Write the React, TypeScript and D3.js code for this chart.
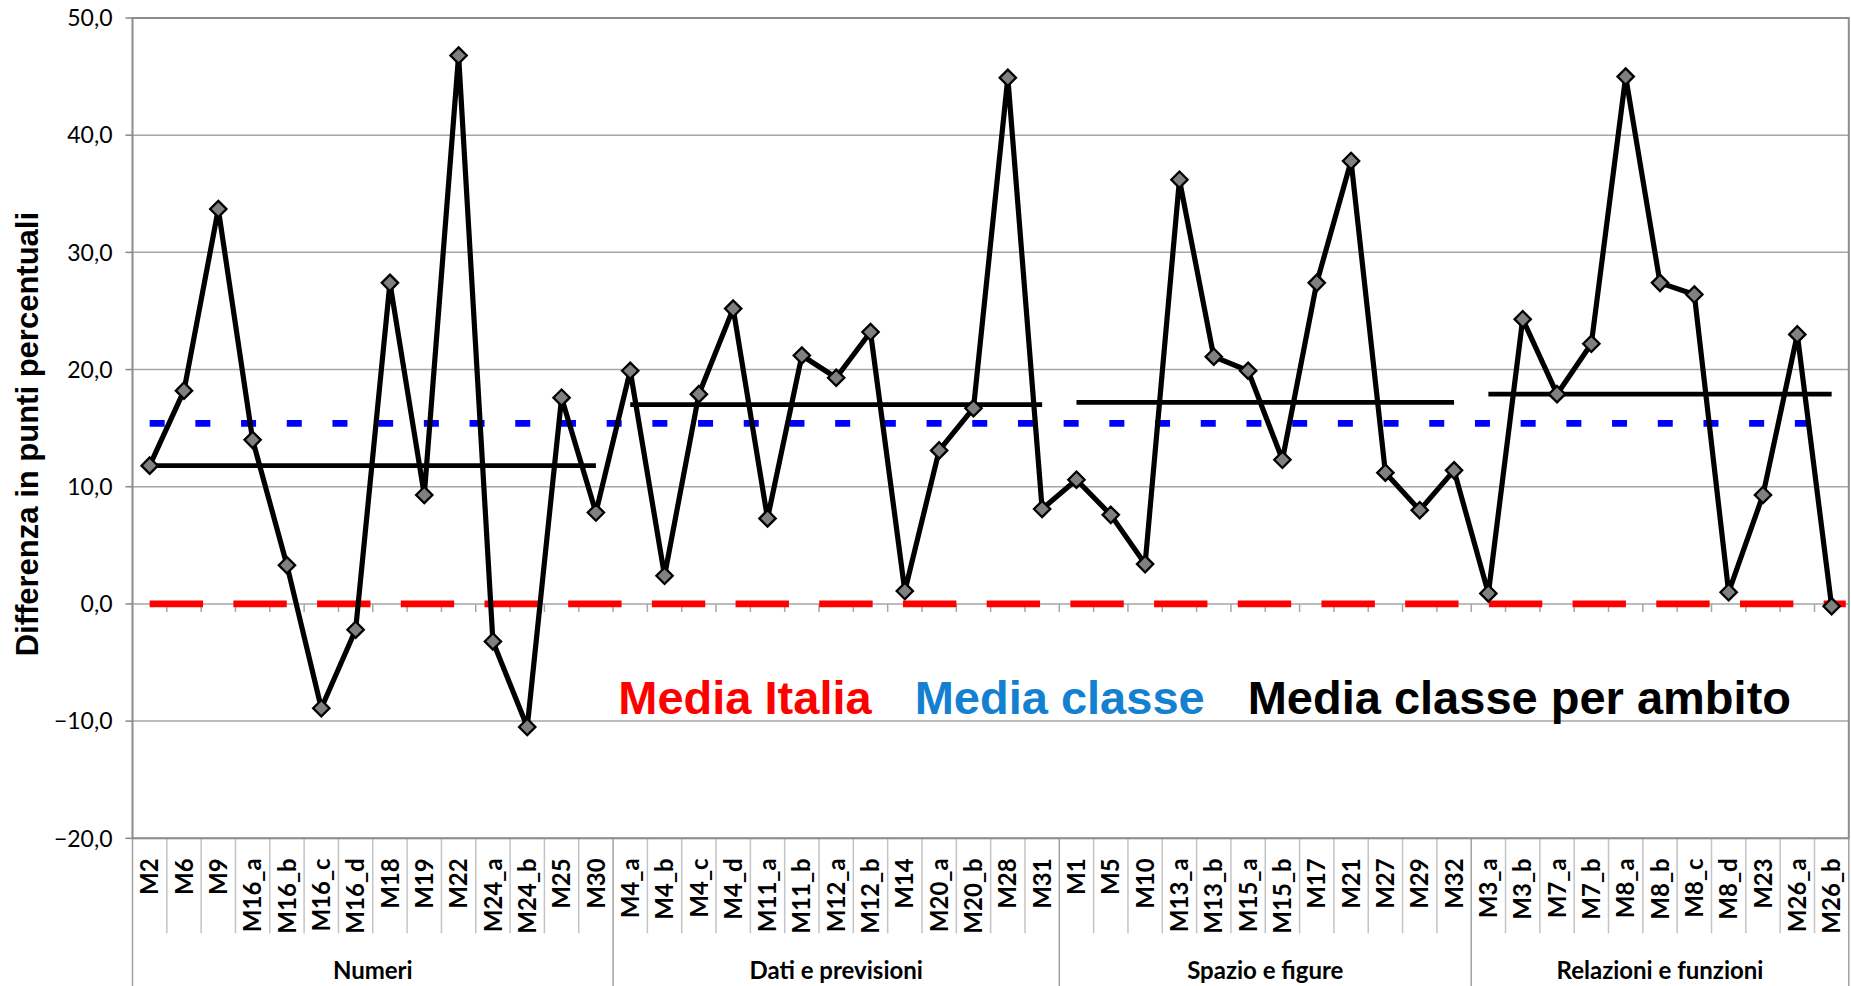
import React, { useEffect, useRef } from 'react';
import * as d3 from 'd3';

const groupNames = ['Numeri', 'Dati e previsioni', 'Spazio e figure', 'Relazioni e funzioni'];

const numeriItems = ['M2', 'M6', 'M9', 'M16_a', 'M16_b', 'M16_c', 'M16_d', 'M18', 'M19', 'M22', 'M24_a', 'M24_b', 'M25', 'M30'];
const numeriValues = [11.8, 18.2, 33.7, 14.0, 3.3, -8.9, -2.2, 27.4, 9.3, 46.8, -3.2, -10.5, 17.6, 7.8];

const datiItems = ['M4_a', 'M4_b', 'M4_c', 'M4_d', 'M11_a', 'M11_b', 'M12_a', 'M12_b', 'M14', 'M20_a', 'M20_b', 'M28', 'M31'];
const datiValues = [19.9, 2.4, 17.9, 25.2, 7.3, 21.2, 19.3, 23.2, 1.1, 13.1, 16.7, 44.9, 8.1];

const spazioItems = ['M1', 'M5', 'M10', 'M13_a', 'M13_b', 'M15_a', 'M15_b', 'M17', 'M21', 'M27', 'M29', 'M32'];
const spazioValues = [10.6, 7.6, 3.4, 36.2, 21.1, 19.9, 12.3, 27.4, 37.8, 11.2, 8.0, 11.4];

const relazioniItems = ['M3_a', 'M3_b', 'M7_a', 'M7_b', 'M8_a', 'M8_b', 'M8_c', 'M8_d', 'M23', 'M26_a', 'M26_b'];
const relazioniValues = [0.9, 24.3, 17.9, 22.2, 45.0, 27.4, 26.4, 1.0, 9.3, 23.0, -0.2];

const groupItems = [numeriItems, datiItems, spazioItems, relazioniItems];
const groupValues = [numeriValues, datiValues, spazioValues, relazioniValues];
const groupMeans = [11.8, 17.0, 17.2, 17.9];

const italyMean = 0;
const classMean = 15.4;
const yTicks = [-20, -10, 0, 10, 20, 30, 40, 50];

const legendItems = [
  { label: 'Media Italia', color: '#ff0000' },
  { label: 'Media classe', color: '#1380d0' },
  { label: 'Media classe per ambito', color: '#000000' },
];

const WIDTH = 1851;
const HEIGHT = 986;
const plot = { left: 132.5, right: 1848.8, top: 18, bottom: 838.3 };

const labelFont = 'Lato, "Open Sans", sans-serif';
const arialFont = '"Liberation Sans", Arial, sans-serif';

const App: React.FC = () => {
  const svgRef = useRef<SVGSVGElement>(null);

  useEffect(() => {
    if (!svgRef.current) return;
    const svg = d3.select(svgRef.current);
    svg.selectAll('*').remove();

    const rows = groupItems.flatMap((items, g) =>
      items.map((item, i) => ({ item, value: groupValues[g][i], group: g }))
    );

    const x = d3
      .scaleBand()
      .domain(rows.map(d => d.item))
      .range([plot.left, plot.right])
      .padding(0);
    const y = d3.scaleLinear().domain([-20, 50]).range([plot.bottom, plot.top]);
    const cx = (item: string) => (x(item) || 0) + x.bandwidth() / 2;

    svg.append('rect').attr('width', WIDTH).attr('height', HEIGHT).attr('fill', '#fff');

    // gridlines
    svg
      .append('g')
      .selectAll('line')
      .data(yTicks)
      .join('line')
      .attr('x1', plot.left)
      .attr('x2', plot.right)
      .attr('y1', d => y(d))
      .attr('y2', d => y(d))
      .attr('stroke', '#a6a6a6')
      .attr('stroke-width', 1.5);

    // y ticks + labels
    const yAxis = svg.append('g');
    yAxis
      .selectAll('line')
      .data(yTicks)
      .join('line')
      .attr('x1', plot.left - 7)
      .attr('x2', plot.left)
      .attr('y1', d => y(d))
      .attr('y2', d => y(d))
      .attr('stroke', '#868686')
      .attr('stroke-width', 1.5);
    yAxis
      .selectAll('text')
      .data(yTicks)
      .join('text')
      .attr('x', plot.left - 20)
      .attr('y', d => y(d))
      .attr('dy', '0.36em')
      .attr('text-anchor', 'end')
      .style('font-family', labelFont)
      .style('font-size', '23px')
      .style('fill', '#000')
      .text(d => d3.format('.1f')(d).replace('.', ','));

    svg
      .append('text')
      .attr('transform', `translate(37.6, ${(plot.top + plot.bottom) / 2 + 6}) rotate(-90)`)
      .attr('text-anchor', 'middle')
      .style('font-family', arialFont)
      .style('font-weight', 'bold')
      .style('font-size', '31px')
      .text('Differenza in punti percentuali');

    // category boundaries
    const allItems = rows.map(d => d.item);
    const boundaries = allItems.map(d => x(d) || 0).concat([plot.right]);
    const groupStarts = new Set<number>();
    let acc = 0;
    groupItems.forEach(items => {
      groupStarts.add(acc);
      acc += items.length;
    });
    groupStarts.add(acc);

    // small ticks on the zero axis
    svg
      .append('g')
      .selectAll('line')
      .data(boundaries.slice(1, -1))
      .join('line')
      .attr('x1', d => d)
      .attr('x2', d => d)
      .attr('y1', y(0))
      .attr('y2', y(0) + 8)
      .attr('stroke', '#a6a6a6')
      .attr('stroke-width', 1.5);

    // dividers under plot
    svg
      .append('g')
      .selectAll('line')
      .data(boundaries.map((b, i) => ({ b, group: groupStarts.has(i) })))
      .join('line')
      .attr('x1', d => d.b)
      .attr('x2', d => d.b)
      .attr('y1', plot.bottom)
      .attr('y2', d => (d.group ? HEIGHT : plot.bottom + 95))
      .attr('stroke', d => (d.group ? '#a0a0a0' : '#c4c4c4'))
      .attr('stroke-width', 1.5);

    // plot border
    svg
      .append('rect')
      .attr('x', plot.left)
      .attr('y', plot.top)
      .attr('width', plot.right - plot.left)
      .attr('height', plot.bottom - plot.top)
      .attr('fill', 'none')
      .attr('stroke', '#8c8c8c')
      .attr('stroke-width', 2);

    // category labels
    svg
      .append('g')
      .selectAll('text')
      .data(allItems)
      .join('text')
      .attr('transform', d => `translate(${cx(d)}, ${plot.bottom + 20}) rotate(-90)`)
      .attr('dy', '0.36em')
      .attr('text-anchor', 'end')
      .style('font-family', labelFont)
      .style('font-weight', 'bold')
      .style('font-size', '24px')
      .text(d => d);

    // group labels
    groupItems.forEach((items, g) => {
      const x0 = x(items[0]) || 0;
      const x1 = (x(items[items.length - 1]) || 0) + x.bandwidth();
      svg
        .append('text')
        .attr('x', (x0 + x1) / 2)
        .attr('y', 979)
        .attr('text-anchor', 'middle')
        .style('font-family', labelFont)
        .style('font-weight', 'bold')
        .style('font-size', '24px')
        .text(groupNames[g]);
    });

    const firstX = cx(allItems[0]);
    const lastX = cx(allItems[allItems.length - 1]);

    // Media Italia
    svg
      .append('line')
      .attr('x1', firstX)
      .attr('x2', plot.right - 3)
      .attr('y1', y(italyMean))
      .attr('y2', y(italyMean))
      .attr('stroke', '#ff0000')
      .attr('stroke-width', 6.7)
      .attr('stroke-dasharray', '53.4 30.3');

    // Media classe
    svg
      .append('line')
      .attr('x1', firstX)
      .attr('x2', lastX)
      .attr('y1', y(classMean))
      .attr('y2', y(classMean))
      .attr('stroke', '#0000ff')
      .attr('stroke-width', 6.7)
      .attr('stroke-dasharray', '15 30.7');

    // Media classe per ambito
    svg
      .append('g')
      .selectAll('line')
      .data(groupItems.map((items, g) => ({ items, mean: groupMeans[g] })))
      .join('line')
      .attr('x1', d => cx(d.items[0]))
      .attr('x2', d => cx(d.items[d.items.length - 1]))
      .attr('y1', d => y(d.mean))
      .attr('y2', d => y(d.mean))
      .attr('stroke', '#000')
      .attr('stroke-width', 4.8);

    // data line
    const line = d3
      .line<{ item: string; value: number }>()
      .x(d => cx(d.item))
      .y(d => y(d.value));
    svg
      .append('path')
      .datum(rows)
      .attr('d', line)
      .attr('fill', 'none')
      .attr('stroke', '#000')
      .attr('stroke-width', 5.2)
      .attr('stroke-linejoin', 'round');

    // markers
    const diamond = d3.symbol().type(d3.symbolDiamond2).size(170);
    svg
      .append('g')
      .selectAll('path')
      .data(rows)
      .join('path')
      .attr('transform', d => `translate(${cx(d.item)}, ${y(d.value)})`)
      .attr('d', diamond as any)
      .attr('fill', '#808080')
      .attr('stroke', '#000')
      .attr('stroke-width', 2.3);

    // legend text
    let lx = 618.3;
    legendItems.forEach(l => {
      const t = svg
        .append('text')
        .attr('x', lx)
        .attr('y', 714)
        .style('font-family', arialFont)
        .style('font-weight', 'bold')
        .style('font-size', '47px')
        .style('fill', l.color)
        .text(l.label);
      const w = (t.node() as SVGTextElement).getComputedTextLength();
      lx += w + 43;
    });
  }, []);

  return (
    <svg
      ref={svgRef}
      width={WIDTH}
      height={HEIGHT}
      style={{ position: 'absolute', left: 0, top: 0, display: 'block' }}
    />
  );
};

export default App;
